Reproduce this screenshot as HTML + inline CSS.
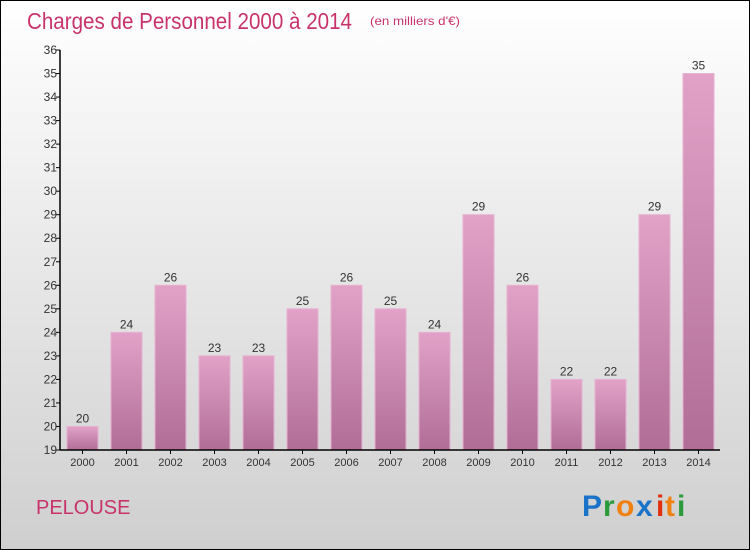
<!DOCTYPE html>
<html><head><meta charset="utf-8"><style>
body{margin:0}
#c{width:750px;height:550px;position:relative;overflow:hidden}
svg text{font-family:"Liberation Sans",sans-serif}
</style></head><body>
<div id="c">
<svg id="s" width="750" height="550">
<defs>
<linearGradient id="bg" x1="0" y1="0" x2="0" y2="1"><stop offset="0" stop-color="#ffffff"/><stop offset="1" stop-color="#cfcfcf"/></linearGradient>
<linearGradient id="bar" x1="0" y1="0" x2="0" y2="1"><stop offset="0" stop-color="#e2a2c8"/><stop offset="1" stop-color="#b06e96"/></linearGradient>
</defs>
<rect x="0.5" y="0.5" width="749" height="549" fill="url(#bg)" stroke="#000"/>
<text x="27" y="29" font-size="23" fill="#c8336a" textLength="325" lengthAdjust="spacingAndGlyphs">Charges de Personnel 2000 à 2014</text>
<text x="370" y="25" font-size="12" fill="#c8336a" textLength="90" lengthAdjust="spacingAndGlyphs">(en milliers d'€)</text>
<text x="36" y="514" font-size="20" fill="#c8336a">PELOUSE</text>
<g font-size="30" font-weight="bold" font-family="Liberation Sans,sans-serif">
<text x="582" y="516" fill="#1a73c8">P</text><text x="603" y="516" fill="#2a9a3a">r</text><text x="616" y="516" fill="#f08010">o</text><text x="636" y="516" fill="#1a73c8">x</text><text x="656" y="516" fill="#e03010">i</text><text x="665" y="516" fill="#f08010">t</text><text x="677" y="516" fill="#2a9a3a">i</text>
</g>
<g id="plot"></g>
</svg>
</div>
<script>
const years=["2000","2001","2002","2003","2004","2005","2006","2007","2008","2009","2010","2011","2012","2013","2014"];
const values=[20,24,26,23,23,25,26,25,24,29,26,22,22,29,35];
const yMin=19,yMax=36;
const ns="http://www.w3.org/2000/svg";
const plotG=document.getElementById('plot');
const x0=60,slot=44,plotTop=50,plotBot=450;
const yS=v=>plotBot-(v-yMin)*(plotBot-plotTop)/(yMax-yMin);
function mk(t,a){const e=document.createElementNS(ns,t);for(const k in a)e.setAttribute(k,a[k]);plotG.appendChild(e);return e;}
values.forEach((v,i)=>{
 const cx=x0+slot*(i+0.5)+0.5;
 const r=mk('rect',{x:cx-15.5,y:yS(v),width:31,height:plotBot-yS(v),fill:'url(#bar)',stroke:'#e6b0d0','stroke-width':1});
 
 
 const t=mk('text',{x:cx,y:yS(v)-4,'text-anchor':'middle','font-size':12,fill:'#333'});
 t.textContent=v;
 
 
 const xl=mk('text',{x:cx,y:plotBot+16,'text-anchor':'middle','font-size':11,fill:'#333'});
 xl.textContent=years[i];
 
 
 const tk=mk('line',{x1:cx,x2:cx,y1:plotBot,y2:plotBot+4,stroke:'#000'});
 
 
});
for(let v=yMin;v<=yMax;v++){
 const l=mk('line',{x1:x0-4,x2:x0,y1:yS(v),y2:yS(v),stroke:'#000'});
 
 
 const t=mk('text',{x:x0-3,y:yS(v)+4,'text-anchor':'end','font-size':12,fill:'#333'});
 t.textContent=v;
 
 
}
const ya=mk('line',{x1:x0,x2:x0,y1:plotTop,y2:plotBot,stroke:'#000','stroke-width':1.5});


const xa=mk('line',{x1:x0,x2:x0+slot*15,y1:plotBot,y2:plotBot,stroke:'#000','stroke-width':1.5});


</script>
</body></html>
